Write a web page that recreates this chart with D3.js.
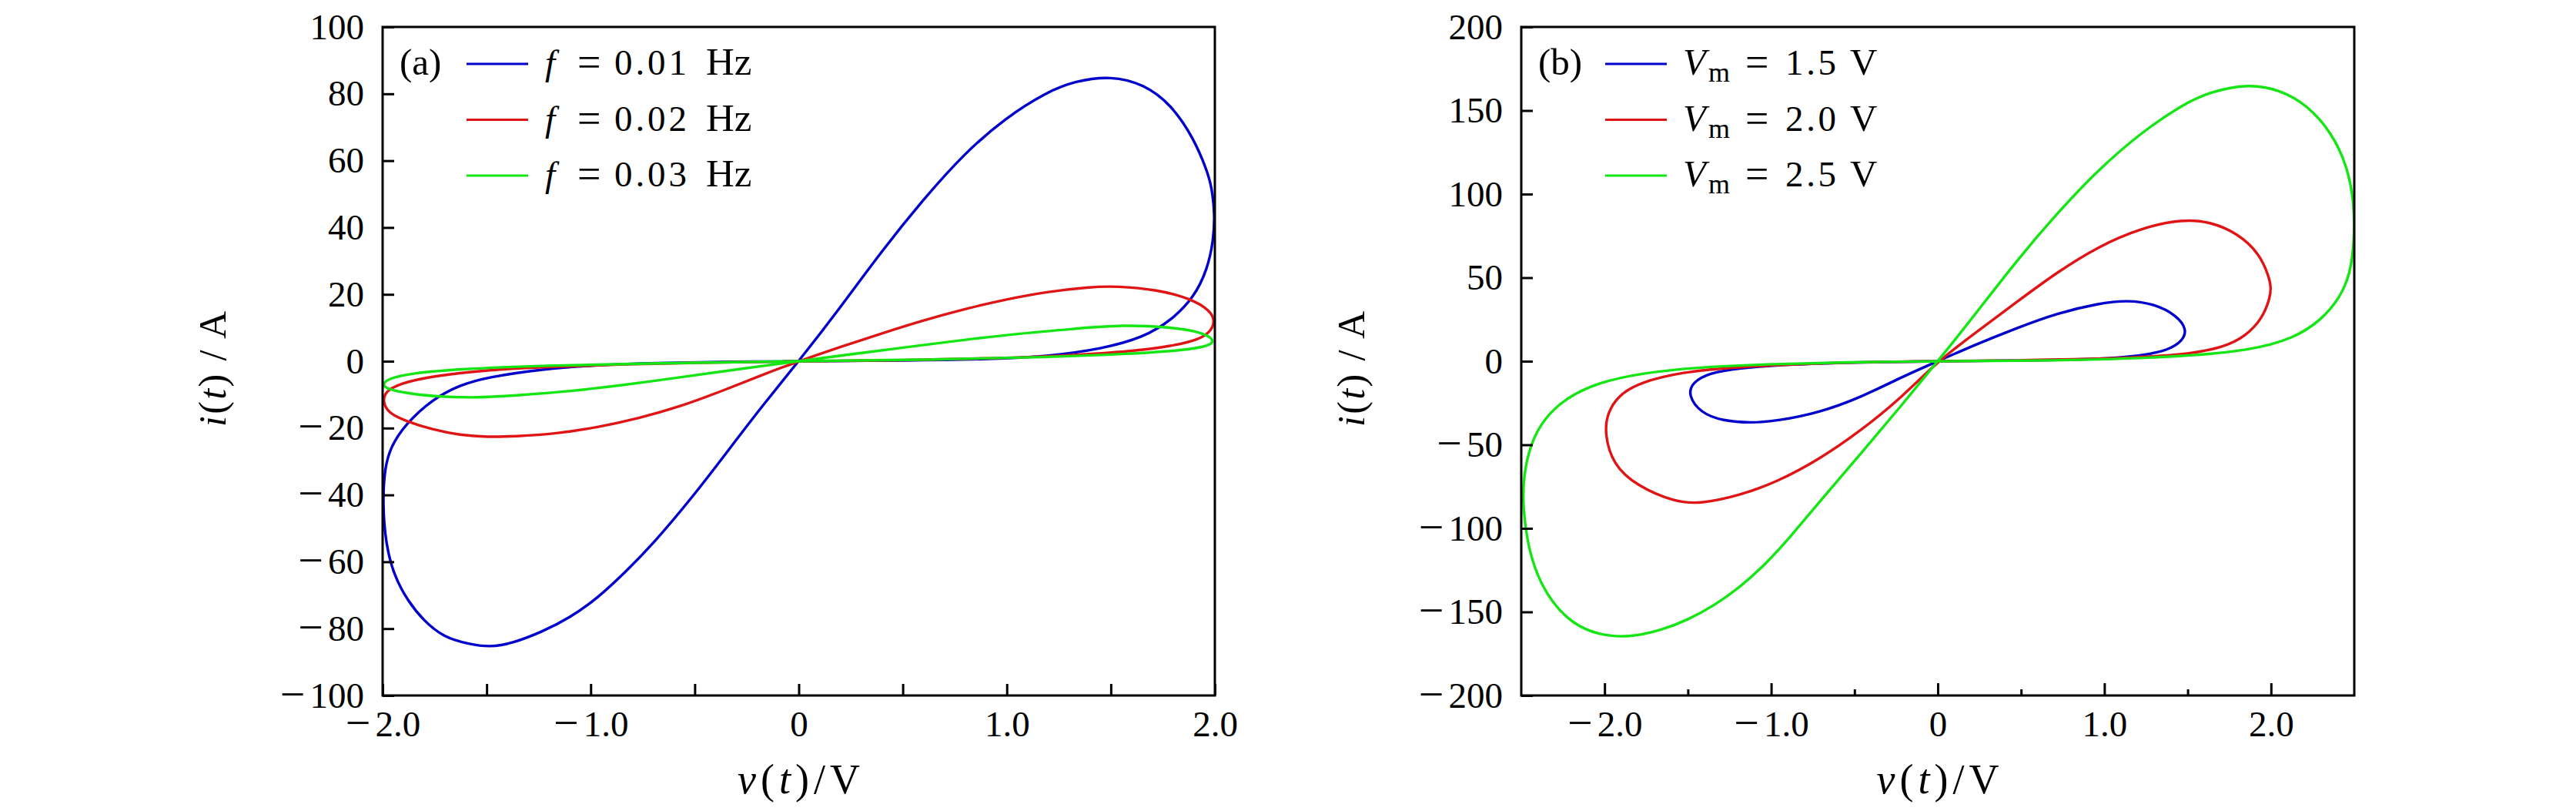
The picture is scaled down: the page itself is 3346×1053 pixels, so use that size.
<!DOCTYPE html>
<html>
<head>
<meta charset="utf-8">
<script src="https://cdn.jsdelivr.net/npm/d3@7"></script>
<style>
	body { margin: 0; background: #fff; }
	text { font-family: "Liberation Serif", "Times New Roman", serif; fill: #000; }
</style>
</head>
<body>
<svg id="chart" width="3346" height="1053"></svg>
<script>
// series colours: blue, red, green
const seriesColors = ["#0000cd", "#e01414", "#14e614"]

// (a) i-v loops for different frequencies, points as [v, i]
const loopF001 = [
	[0, 0], [0.53, 0.2], [0.93, 0.6], [1.19, 1.4], [1.46, 3.7], [1.66, 7.2], [1.79, 12.2], [1.9, 19.1],
	[1.964, 27.5], [1.993, 36], [2.0, 44], [1.985, 52], [1.964, 56.8], [1.898, 66.8], [1.79, 76.8],
	[1.659, 82.9], [1.5, 85.4], [1.327, 83.8], [1.194, 80.6], [0.995, 72.9], [0.796, 62.2], [0.597, 48.3],
	[0.398, 32.9], [0.199, 16], [0, 0],
	[-0.173, -13.2], [-0.306, -24], [-0.504, -40.2], [-0.702, -54.8], [-0.835, -63.2], [-0.967, -70.9],
	[-1.099, -76.7], [-1.231, -80.9], [-1.377, -84.4], [-1.483, -85.6], [-1.589, -84.6], [-1.708, -82.5],
	[-1.8, -77.8], [-1.88, -71.7], [-1.946, -64], [-1.985, -54.8], [-2.0, -42.5], [-1.99, -31.7],
	[-1.96, -25.5], [-1.893, -19], [-1.76, -11.3], [-1.628, -7.1], [-1.496, -4.8], [-1.231, -2.3],
	[-0.967, -1.15], [-0.7, -0.5], [-0.3, -0.15]
]
const loopF002 = [
	[0, 0], [0.53, 0.3], [0.93, 0.8], [1.327, 1.8], [1.593, 2.9], [1.79, 4.5], [1.924, 6.4], [1.984, 9.1],
	[2.0, 12.2], [1.977, 15.2], [1.885, 18.7], [1.725, 21.4], [1.526, 22.5], [1.394, 22.2], [1.194, 20.8],
	[0.995, 18.5], [0.796, 15.6], [0.597, 12.2], [0.398, 8.3], [0.199, 4.3], [0, 0],
	[-0.173, -4], [-0.372, -9], [-0.57, -13.6], [-0.769, -17.1], [-0.967, -19.8], [-1.165, -21.7],
	[-1.364, -22.5], [-1.496, -22.7], [-1.628, -22.1], [-1.76, -20.5], [-1.893, -17.8], [-1.972, -15.5],
	[-2.0, -12.1], [-1.986, -9], [-1.92, -6.7], [-1.76, -4.4], [-1.496, -2.6], [-1.23, -1.7],
	[-0.835, -0.9], [-0.44, -0.4]
]
const loopF003 = [
	[0, 0], [0.664, 0.5], [1.194, 1.2], [1.593, 2.2], [1.858, 3.3], [1.977, 4.6], [2.0, 6.4], [1.937, 8.7],
	[1.79, 10.2], [1.553, 10.9], [1.327, 9.7], [1.062, 8.3], [0.796, 6.4], [0.53, 4.3], [0.265, 2.2], [0, 0],
	[-0.306, -2.5], [-0.57, -4.8], [-0.835, -7.1], [-1.1, -9], [-1.364, -10.3], [-1.562, -11],
	[-1.76, -10.5], [-1.893, -9.5], [-1.986, -8.2], [-2.0, -6.7], [-1.97, -5.2], [-1.866, -3.6],
	[-1.628, -2.3], [-1.23, -1.3], [-0.7, -0.6]
]
const freqLabels = ["0.01", "0.02", "0.03"]

// (b) i-v loops for different amplitudes
const loopV15 = [
	[0, 0], [0.552, 0.5], [0.968, 1.2], [1.218, 3.1], [1.384, 6.6], [1.468, 12], [1.497, 18.9], [1.434, 27.4],
	[1.301, 34.3], [1.135, 36.6], [0.968, 34.6], [0.719, 28.9], [0.469, 19.7], [0.22, 9.7], [0, 0],
	[-0.218, -9.5], [-0.465, -21.8], [-0.713, -30.8], [-0.96, -35.7], [-1.125, -37], [-1.29, -35.7],
	[-1.422, -31.1], [-1.5, -20.3], [-1.472, -12.6], [-1.373, -7.2], [-1.208, -4.2], [-0.878, -1.8],
	[-0.465, -0.6]
]
const loopV20 = [
	[0, 0], [0.469, 0.5], [0.968, 1.2], [1.468, 3.5], [1.717, 8.2], [1.85, 15.1], [1.95, 25.8], [1.995, 38.2],
	[2.0, 44], [1.99, 50], [1.933, 64.3], [1.8, 76.6], [1.634, 83.5], [1.468, 85], [1.218, 79.7],
	[0.968, 68.9], [0.719, 53.5], [0.469, 35.1], [0.22, 16.6], [0, 0],
	[-0.218, -21.8], [-0.465, -41.8], [-0.713, -58.8], [-0.96, -72], [-1.19, -80.4], [-1.422, -85.3],
	[-1.576, -84.4], [-1.807, -74.6], [-1.95, -61.8], [-2.0, -43.4], [-1.984, -31.1], [-1.917, -20.3],
	[-1.785, -12.6], [-1.538, -6.5], [-1.208, -3.4], [-0.713, -1.2], [-0.3, -0.3]
]
const loopV25 = [
	[0, 0], [0.469, 0.3], [0.968, 0.9], [1.468, 2.8], [1.884, 6.6], [2.133, 13.5], [2.3, 24.3], [2.416, 38.2],
	[2.474, 52], [2.5, 70.5], [2.5, 95], [2.458, 116.6], [2.366, 136.6], [2.216, 153.5], [2.05, 162.5],
	[1.867, 166], [1.634, 161.2], [1.468, 153.5], [1.218, 136.6], [0.968, 115], [0.719, 88.9],
	[0.469, 59.7], [0.22, 27.4], [0, 0],
	[-0.218, -26.5], [-0.465, -55.7], [-0.729, -86.3], [-0.882, -104.8], [-1.036, -121.7], [-1.19, -135.5],
	[-1.344, -146.3], [-1.499, -154.7], [-1.653, -160.8], [-1.853, -165.4], [-2.038, -163.9],
	[-2.192, -157], [-2.315, -144.7], [-2.408, -127.8], [-2.462, -109.4], [-2.49, -87.9],
	[-2.488, -69.4], [-2.446, -49.5], [-2.363, -34.2], [-2.231, -21.8], [-2.033, -12.6], [-1.785, -7.2],
	[-1.455, -3.7], [-1.043, -1.8], [-0.548, -0.6]
]
const ampLabels = ["1.5", "2.0", "2.5"]

// ticks
const xMajorA = [-2, -1, 0, 1, 2]
const xMinorA = [-1.5, -0.5, 0.5, 1.5]
const yTicksA = [-100, -80, -60, -40, -20, 0, 20, 40, 60, 80, 100]
const xMajorB = [-2, -1, 0, 1, 2]
const xMinorB = [-1.5, -0.5, 0.5, 1.5]
const yTicksB = [-200, -150, -100, -50, 0, 50, 100, 150, 200]

const fontSize = 47

// the original uses a long math minus, so split it off into a bigger tspan.
// the axis' em-based dy is moved into y first, tspans would override it
function wideMinus(textSel) {
	textSel.each(function() {
		const t = d3.select(this)
		const dyEm = parseFloat(t.attr("dy")) || 0
		t.attr("y", (+t.attr("y") || 0) + dyEm * fontSize).attr("dy", null)

		const s = t.text()
		if (!s.startsWith("−")) return
		t.text("")
		t.append("tspan").attr("font-size", 58).attr("dy", 2).text("−")
		t.append("tspan").attr("dy", -2).attr("dx", 6).text(s.slice(1))
	})
}

function drawPanel(svg, p) {
	const x = d3.scaleLinear().domain(p.xDomain).range([p.left, p.right])
	const y = d3.scaleLinear().domain(p.yDomain).range([p.bottom, p.top])

	const g = svg.append("g")

	g.append("clipPath").attr("id", p.id + "-clip")
		.append("rect")
			.attr("x", p.left).attr("y", p.top)
			.attr("width", p.right - p.left).attr("height", p.bottom - p.top)

	const line = d3.line()
		.x(d => x(d[0]))
		.y(d => y(d[1]))
		.curve(d3.curveBasisClosed)

	g.append("g").attr("clip-path", `url(#${p.id}-clip)`)
		.selectAll("path")
		.data(p.series)
		.join("path")
			.attr("d", line)
			.attr("fill", "none")
			.attr("stroke", (d, k) => seriesColors[k])
			.attr("stroke-width", 3.4)
			.attr("stroke-linejoin", "round")

	// axes, ticks point inwards
	const styleAxis = sel => {
		sel.select(".domain").remove()
		sel.selectAll("line").attr("stroke-width", 3)
		sel.selectAll("text")
			.attr("font-size", fontSize)
			.attr("font-family", "Liberation Serif")
			.call(wideMinus)
	}

	g.append("g")
		.attr("transform", `translate(0,${p.bottom})`)
		.call(d3.axisBottom(x).tickValues(p.xMajor).tickSize(-p.majorLen).tickPadding(20)
			.tickFormat(d => d === 0 ? "0" : d3.format(".1f")(d)))
		.call(styleAxis)

	g.append("g")
		.attr("transform", `translate(0,${p.bottom})`)
		.call(d3.axisBottom(x).tickValues(p.xMinor).tickSize(-p.minorLen).tickFormat(""))
		.call(styleAxis)

	g.append("g")
		.attr("transform", `translate(${p.left},0)`)
		.call(d3.axisLeft(y).tickValues(p.yTicks).tickSize(-15).tickPadding(24)
			.tickFormat(d3.format("d")))
		.call(styleAxis)

	g.append("rect")
		.attr("x", p.left).attr("y", p.top)
		.attr("width", p.right - p.left).attr("height", p.bottom - p.top)
		.attr("fill", "none")
		.attr("stroke", "#000")
		.attr("stroke-width", 3)

	// axis titles
	const xTitle = g.append("text")
		.attr("x", (p.left + p.right) / 2)
		.attr("y", 1030)
		.attr("text-anchor", "middle")
		.attr("font-size", 54)
		.attr("textLength", 159)
		.attr("lengthAdjust", "spacing")
	xTitle.append("tspan").attr("font-style", "italic").text("v")
	xTitle.append("tspan").text("(")
	xTitle.append("tspan").attr("font-style", "italic").text("t")
	xTitle.append("tspan").text(")/V")

	const yTitle = g.append("text")
		.attr("transform", `translate(${p.left - 204},${(p.top + p.bottom) / 2 + 10}) rotate(-90)`)
		.attr("text-anchor", "middle")
		.attr("font-size", 50)
		.attr("textLength", 150)
		.attr("lengthAdjust", "spacing")
	yTitle.append("tspan").attr("font-style", "italic").text("i")
	yTitle.append("tspan").text("(")
	yTitle.append("tspan").attr("font-style", "italic").text("t")
	yTitle.append("tspan").text(") / A")

	// legend
	g.append("text")
		.attr("x", p.left + 22)
		.attr("y", 97)
		.attr("font-size", 49)
		.text(p.tag)

	const rows = g.selectAll(".legend-row")
		.data(p.legendValues)
		.join("g")
			.attr("class", "legend-row")
			.attr("transform", (d, k) => `translate(0,${k * 72.5})`)

	rows.append("line")
		.attr("x1", p.left + 109).attr("x2", p.left + 189)
		.attr("y1", 83).attr("y2", 83)
		.attr("stroke", (d, k) => seriesColors[k])
		.attr("stroke-width", 3)

	rows.each(function(d) {
		p.legendText(d3.select(this), d)
	})
}

const svg = d3.select("#chart")

drawPanel(svg, {
	id: "pa",
	left: 497, right: 1578, top: 35, bottom: 903,
	xDomain: [-2, 2], yDomain: [-100, 100],
	xMajor: xMajorA, xMinor: xMinorA, yTicks: yTicksA,
	majorLen: 15, minorLen: 15,
	series: [loopF001, loopF002, loopF003],
	tag: "(a)",
	legendValues: freqLabels,
	legendText: (row, d) => {
		const t = row.append("text").attr("y", 97).attr("font-size", fontSize)
		t.append("tspan").attr("x", 708).attr("font-style", "italic").text("f")
		t.append("tspan").attr("x", 750).attr("font-size", 54).attr("dy", 2).text("=")
		t.append("tspan").attr("x", 798).attr("dy", -2).attr("textLength", 94).text(d)
		t.append("tspan").attr("x", 917).attr("font-size", 51).text("Hz")
	}
})

drawPanel(svg, {
	id: "pb",
	left: 1976, right: 3058, top: 35, bottom: 903,
	xDomain: [-2.5, 2.5], yDomain: [-200, 200],
	xMajor: xMajorB, xMinor: xMinorB, yTicks: yTicksB,
	majorLen: 16, minorLen: 8,
	series: [loopV15, loopV20, loopV25],
	tag: "(b)",
	legendValues: ampLabels,
	legendText: (row, d) => {
		const t = row.append("text").attr("y", 97).attr("font-size", fontSize)
		t.append("tspan").attr("x", 2186).attr("font-style", "italic").attr("font-size", 49).text("V")
		t.append("tspan").attr("x", 2219).attr("dy", 9).attr("font-size", 36).text("m")
		t.append("tspan").attr("x", 2267).attr("dy", -7).attr("font-size", 54).text("=")
		t.append("tspan").attr("x", 2319).attr("dy", -2).attr("textLength", 66).text(d)
		t.append("tspan").attr("x", 2403).attr("font-size", 49).text("V")
	}
})
</script>
</body>
</html>
